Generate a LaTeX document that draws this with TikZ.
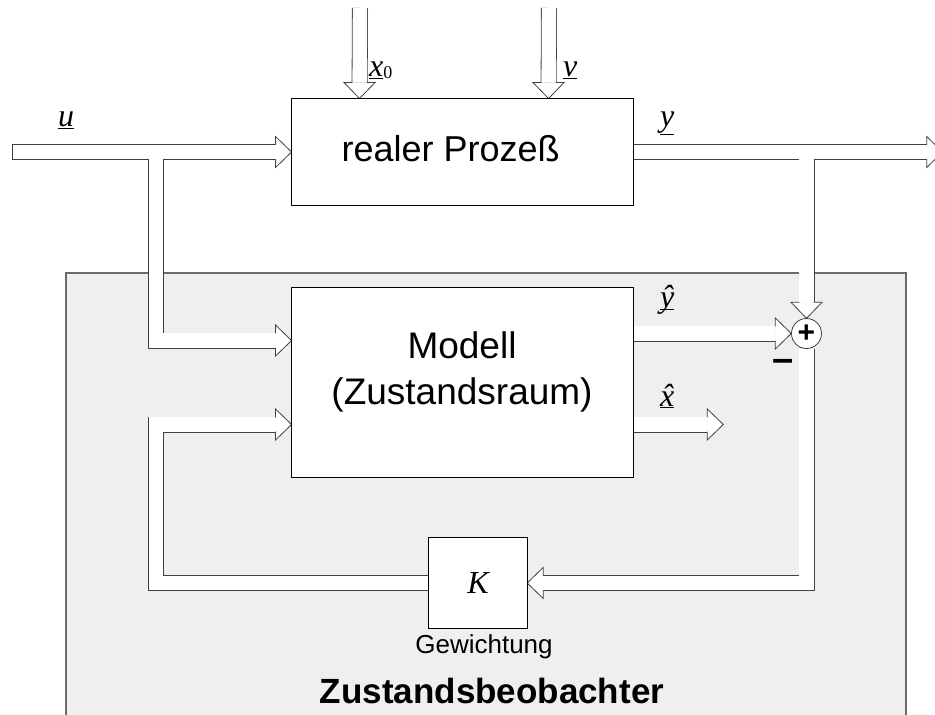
\documentclass[tikz,border=0pt]{standalone}
\usepackage{fontspec}
\setmainfont{Liberation Sans}
\newfontfamily\symserif{Liberation Serif}
\usetikzlibrary{calc}
\definecolor{panel}{HTML}{EFEFEF}
\definecolor{edge}{HTML}{404040}
\definecolor{panelrim}{HTML}{6A6A6A}
% underlined italic variable, and the same with a hat
\newcommand\ulvar[1]{\underline{\symserif\itshape #1}}
\newcommand\hatvar[1]{\underline{\symserif\itshape\ooalign{#1\cr\hidewidth\char"02C6\hidewidth\cr}}}
\newcommand\fs[1]{\fontsize{#1}{#1}\selectfont}

\begin{document}
\begin{tikzpicture}[x=1pt,y=-1pt,
  blockbox/.style={draw=black, fill=white, line width=0.9pt, inner sep=0pt},
  fatout/.style={draw=edge, line width=16pt, line join=miter},
  fatin/.style={draw=white, line width=14.4pt, line join=miter},
  fatedge/.style={draw=edge, line width=0.8pt, line join=miter},
  headed/.style={shorten >=16pt},
  fathead/.pic={\filldraw[fatedge, fill=white] (-16,7.2) -- (-16,15.5) -- (0,0) -- (-16,-15.5) -- (-16,-7.2);},
  varlabel/.style={inner sep=0pt, anchor=base west, font=\fs{32}},
  txt/.style={inner sep=0pt}
]
\useasboundingbox (0,0) rectangle (935,715);

% observer panel (runs off the lower edge)
\path[fill=panel, draw=panelrim, line width=1.3pt] (66,273) rectangle (906,725);

% blocks
\node[blockbox, minimum width=341pt, minimum height=106pt] (proc) at (462.5,152) {};
\node[blockbox, minimum width=341pt, minimum height=189pt] (model) at (462.5,382.5) {};
\node[draw=none, inner sep=0pt, minimum size=30pt, circle] (sum) at (806.5,333.5) {};
\node[draw=none, inner sep=0pt, minimum width=98pt, minimum height=90pt] (gain) at (478,583) {};

% free ends of the broad arrows
\coordinate (uin)   at (12,152);
\coordinate (usplit) at (156,152);
\coordinate (x0in)  at (360,8);
\coordinate (vin)   at (549,8);
\coordinate (ysplit) at (806.5,152);
\coordinate (yout)  at (942.7,152);
\coordinate (xhout) at (723.3,424.5);
\coordinate (fbk)   at (156,424.5);
\coordinate (modelu) at ($(model.north west)+(0,53)$);
\coordinate (procx) at ($(proc.north west)+(68,0)$);
\coordinate (procv) at ($(proc.north west)+(257,0)$);

% broad arrow shafts: drawn once as outline, once as white core
\newcommand\shafts[1]{%
  \draw[#1, headed] (uin) -- (proc.west);
  \draw[#1, headed] (usplit) |- (modelu);
  \draw[#1, headed] (x0in) -- (procx);
  \draw[#1, headed] (vin) -- (procv);
  \draw[#1, headed] (proc.east) -- (yout);
  \draw[#1, headed] (ysplit) -- (sum.north);
  \draw[#1, headed] (model.east |- sum.west) -- (sum.west);
  \draw[#1, headed] (model.east |- xhout) -- (xhout);
  \draw[#1, headed] (sum.south) |- (gain.east);
  \draw[#1, headed] (gain.west) -| (fbk) -- (fbk -| model.west);
}
\shafts{fatout}
\shafts{fatin}
\draw[fatedge] (12,144.8) -- (12,159.2);

% arrow heads
\pic at (proc.west) {fathead};
\pic at (modelu) {fathead};
\pic[rotate=-90] at (procx) {fathead};
\pic[rotate=-90] at (procv) {fathead};
\pic at (yout) {fathead};
\pic[rotate=-90] at (sum.north) {fathead};
\pic at (sum.west) {fathead};
\pic at (xhout) {fathead};
\pic[rotate=180] at (gain.east) {fathead};
\pic at (fbk -| model.west) {fathead};

% blocks on top of the shafts
\draw[blockbox] (proc.south west) rectangle (proc.north east);
\draw[blockbox] (model.south west) rectangle (model.north east);
\draw[blockbox] (gain.south west) rectangle (gain.north east);
\draw[fatedge, fill=white] (sum) circle[radius=15pt];

% block texts
\node[txt, font=\fs{36}] (proctext) at (450.7,149) {realer Prozeß};
\node[txt, font=\fontsize{37}{46}\selectfont, align=center] (modeltext) at (462,372) {Modell\\(Zustandsraum)};
\node[txt, font=\symserif\itshape\fs{32}] (ktext) at (gain) {K};
\node[txt, font=\bfseries\fs{30}] (plus) at (sum) {+};
\node[txt, font=\bfseries\fs{38}] (minus) at (783.5,365) {–};
\node[txt, font=\fs{26}] (weight) at (484,647) {Gewichtung};
\node[txt, font=\bfseries\fs{35}] (observer) at (492,691) {Zustandsbeobachter};

% signal names
\node[varlabel] (ulab) at (58,126) {\ulvar{u}};
\node[varlabel] (x0lab) at (369,76.5) {\ulvar{x}\raisebox{-0.05em}{\symserif\fs{18}0}};
\node[varlabel] (vlab) at (563,76.5) {\ulvar{v}};
\node[varlabel] (ylab) at (660,126) {\ulvar{y}};
\node[varlabel] (yhlab) at (660,307.5) {\hatvar{y}};
\node[varlabel] (xhlab) at (660,406) {\hatvar{x}};
\end{tikzpicture}
\end{document}
